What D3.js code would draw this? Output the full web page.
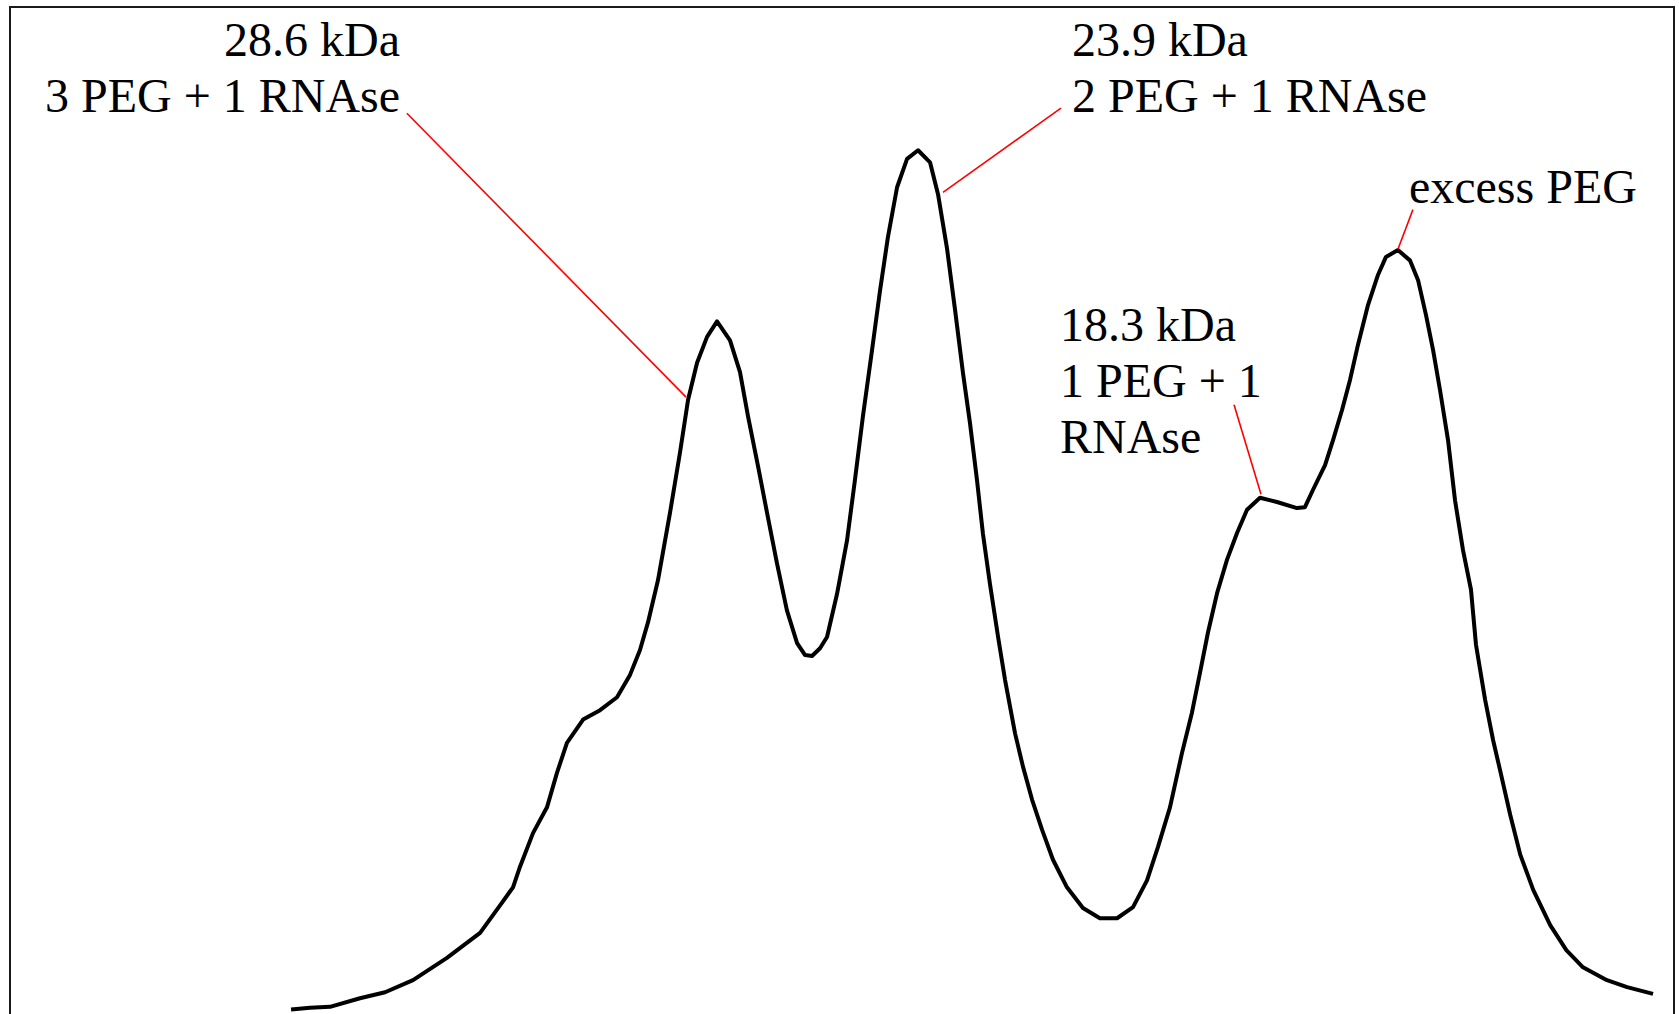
<!DOCTYPE html>
<html>
<head>
<meta charset="utf-8">
<script src="https://cdn.jsdelivr.net/npm/d3@7"></script>
<style>
  body { margin: 0; background: #fff; }
  svg { display: block; }
</style>
</head>
<body>
<svg id="chart" width="1679" height="1014"></svg>
<script>
// densitometry trace, arbitrary units (position along lane, intensity)
const position = [168.9, 180.3, 192.3, 210.3, 225.4, 242.2, 262.6, 282.5, 294.5,
  302.3, 306.5, 314.3, 322.7, 328.7, 334.7, 344.4, 354.6, 364.8, 372.6,
  378.6, 383.4, 389.4, 396.6, 402.6, 407.5, 412.9, 418.9, 424.9, 432.7,
  438.7, 443.5, 449.5, 454.9, 460.9, 466.9, 473.0, 477.8, 482.0, 486.8,
  491.0, 497.0, 503.0, 507.8, 512.6, 518.0, 522.8, 527.6, 533.1, 539.1,
  545.7, 552.9, 557.7, 563.1, 567.9, 572.7, 576.9, 581.1, 584.7, 588.9,
  593.8, 598.0, 604.0, 608.8, 614.2, 620.2, 626.8, 635.2, 644.8, 655.0,
  665.3, 674.9, 683.3, 689.9, 697.1, 704.3, 710.3, 715.1, 719.9, 725.4,
  731.4, 737.4, 743.4, 751.2, 761.4, 773.4, 778.2, 783.0, 790.3, 795.1,
  800.5, 805.3, 810.1, 816.1, 822.1, 826.9, 834.1, 841.3, 846.2, 851.0,
  855.2, 859.4, 864.2, 868.4, 873.2, 878.0, 881.0, 886.5, 891.3, 895.5,
  901.6, 907.6, 915.4, 925.6, 935.3, 945.3, 959.7, 971.8, 987.4];

const intensity = [0.3, 0.5, 0.6, 1.6, 2.3, 3.7, 6.3, 9.2, 12.4,
  14.5, 16.9, 20.8, 23.8, 27.8, 31.3, 34.0, 35.1, 36.6, 39.2,
  42.1, 45.3, 50.2, 58.0, 65.0, 71.2, 75.5, 78.5, 80.3, 78.1,
  74.4, 69.3, 63.5, 58.1, 52.2, 46.7, 42.9, 41.5, 41.4, 42.3,
  43.6, 48.6, 54.8, 61.9, 69.3, 76.9, 83.8, 90.1, 95.9, 99.2,
  100.2, 98.8, 95.1, 88.8, 81.7, 74.3, 68.5, 61.9, 55.6, 49.8,
  43.6, 38.6, 32.4, 28.5, 24.7, 21.2, 17.7, 14.5, 12.1, 10.9,
  10.9, 12.2, 15.3, 19.2, 23.8, 30.1, 34.8, 39.4, 44.1, 48.7,
  52.6, 55.7, 58.4, 59.8, 59.3, 58.6, 58.7, 60.7, 63.6, 66.5,
  70.0, 73.5, 77.6, 82.2, 85.7, 87.8, 88.6, 87.4, 85.1, 81.0,
  77.0, 72.3, 66.5, 59.5, 53.7, 49.1, 42.7, 36.3, 31.6, 28.1,
  22.9, 18.3, 14.2, 10.1, 7.2, 5.2, 3.7, 2.9, 2.1];

// peak labels
const labelLines = [
  ["28.6 kDa", "3 PEG + 1 RNAse"],
  ["23.9 kDa", "2 PEG + 1 RNAse"],
  ["excess PEG"],
  ["18.3 kDa", "1 PEG + 1", "RNAse"]
];
const labelAnchor = ["end", "start", "start", "start"];
const labelPos = [234.4, 638.2, 840.7, 631.0];
const labelVal = [111.2, 111.2, 94.1, 78.0];

// leader lines: from label to peak
const leaderFrom = [[238.5, 104.5], [631.6, 105.1], [843.1, 93.3], [735.6, 70.6]];
const leaderTo = [[406.3, 71.5], [560.7, 95.3], [834.1, 88.7], [751.8, 60.2]];

let chart = d3.select("#chart");

let x = d3.scaleLinear()
    .domain([0, 1000])
    .range([10, 1674]);

let y = d3.scaleLinear()
    .domain([0, 100])
    .range([1012, 152]);

//frame round the plot (bottom runs off the picture)
chart.append("rect")
    .attr("x", x(0))
    .attr("y", 7)
    .attr("width", x(1000) - x(0))
    .attr("height", 1040)
    .style("fill", "none")
    .style("stroke", "#1a1a1a")
    .style("stroke-width", 2);

let data = position.map(function(p, i) { return [p, intensity[i]]; });

let line = d3.line()
    .x(function(d) { return x(d[0]); })
    .y(function(d) { return y(d[1]); });

chart.append("path")
    .datum(data)
    .attr("d", line)
    .style("fill", "none")
    .style("stroke", "#000")
    .style("stroke-width", 4)
    .style("stroke-linejoin", "round");

//red leader lines
chart.selectAll("line.leader")
    .data(leaderFrom)
    .enter()
    .append("line")
        .attr("class", "leader")
        .attr("x1", function(d) { return x(d[0]); })
        .attr("y1", function(d) { return y(d[1]); })
        .attr("x2", function(d, i) { return x(leaderTo[i][0]); })
        .attr("y2", function(d, i) { return y(leaderTo[i][1]); })
        .style("stroke", "#ff0000")
        .style("stroke-width", 1.6);

//labels
labelLines.forEach(function(lines, i) {
    let t = chart.append("text")
        .attr("x", x(labelPos[i]))
        .attr("y", y(labelVal[i]))
        .attr("text-anchor", labelAnchor[i])
        .attr("font-family", "'Liberation Serif', 'Times New Roman', serif")
        .attr("font-size", "48px")
        .style("fill", "#000");
    lines.forEach(function(s, j) {
        t.append("tspan")
            .attr("x", x(labelPos[i]))
            .attr("dy", j == 0 ? 0 : 56)
            .text(s);
    });
});
</script>
</body>
</html>
